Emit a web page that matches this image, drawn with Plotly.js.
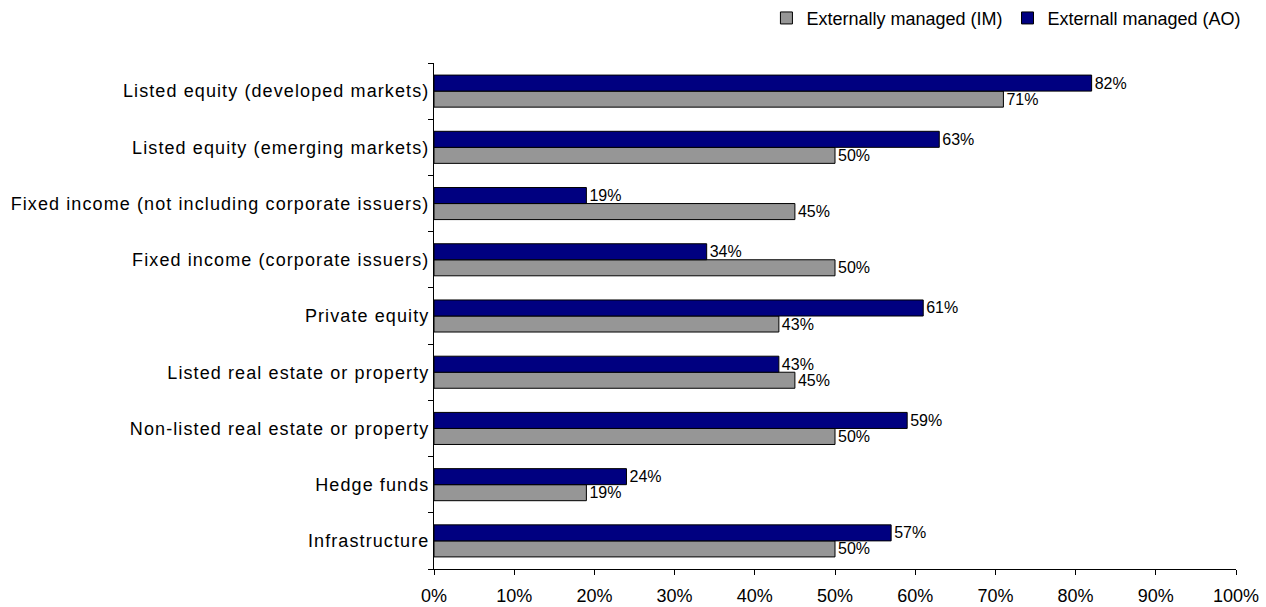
<!DOCTYPE html>
<html>
<head>
<meta charset="utf-8">
<script src="https://cdn.plot.ly/plotly-3.0.1.min.js"></script>
<style>
  html, body { margin: 0; padding: 0; background: white; }
  #chart { width: 1266px; height: 607px; }
  /* the original category labels are set a little wider */
  #chart .ytick text { letter-spacing: 1.1px; }
</style>
</head>
<body>
<div id="chart"></div>
<script>
// categories listed top to bottom as in the picture
const categories = [
  'Listed equity (developed markets)',
  'Listed equity (emerging markets)',
  'Fixed income (not including corporate issuers)',
  'Fixed income (corporate issuers)',
  'Private equity',
  'Listed real estate or property',
  'Non-listed real estate or property',
  'Hedge funds',
  'Infrastructure'
];
const imValues = [71, 50, 45, 50, 43, 45, 50, 19, 50];
const aoValues = [82, 63, 19, 34, 61, 43, 59, 24, 57];
const xTicks = [0, 10, 20, 30, 40, 50, 60, 70, 80, 90, 100];

// plotly draws the first category at the bottom, so flip
const cats = [...categories].reverse();
const im = [...imValues].reverse().map(v => v / 100);
const ao = [...aoValues].reverse().map(v => v / 100);

const fam = 'Liberation Sans, Arial, sans-serif';
const font = { family: fam, size: 18, color: '#000' };
const labelFont = { family: fam, size: 16, color: '#000' };

function barTrace(name, values, color) {
  return {
    type: 'bar',
    orientation: 'h',
    name: name,
    y: cats,
    x: values,
    marker: { color: color, line: { color: '#000', width: 1 } },
    text: values.map(v => Math.round(v * 100) + '%'),
    textposition: 'outside',
    constraintext: 'none',
    cliponaxis: false,
    textfont: labelFont
  };
}

const traceIm = barTrace('Externally managed (IM)', im, '#969696');
const traceAo = barTrace('Externall managed (AO)', ao, '#000080');

const layout = {
  width: 1266,
  height: 607,
  margin: { l: 434, r: 30, t: 63, b: 38, autoexpand: false },
  barmode: 'group',
  bargap: 0.43,
  bargroupgap: 0,
  showlegend: true,
  legend: {
    orientation: 'h',
    x: 1.013, xanchor: 'right',
    y: 1.125, yanchor: 'top',
    font: font,
    itemwidth: 30,
    traceorder: 'normal',
    bgcolor: 'rgba(0,0,0,0)'
  },
  xaxis: {
    range: [0, 1],
    tickvals: xTicks.map(v => v / 100),
    ticktext: xTicks.map(v => v + '%'),
    ticks: 'outside',
    ticklen: 5,
    tickcolor: '#000',
    ticklabelstandoff: 5,
    showline: true,
    linecolor: '#000',
    showgrid: false,
    zeroline: false,
    tickfont: font,
    fixedrange: true
  },
  yaxis: {
    type: 'category',
    ticks: 'outside',
    tickson: 'boundaries',
    ticklen: 5,
    tickcolor: '#000',
    showline: true,
    linecolor: '#000',
    showgrid: false,
    tickfont: font,
    fixedrange: true
  },
  font: font,
  paper_bgcolor: 'white',
  plot_bgcolor: 'white'
};

Plotly.newPlot('chart', [traceIm, traceAo], layout, { displayModeBar: false, staticPlot: true });
</script>
</body>
</html>
